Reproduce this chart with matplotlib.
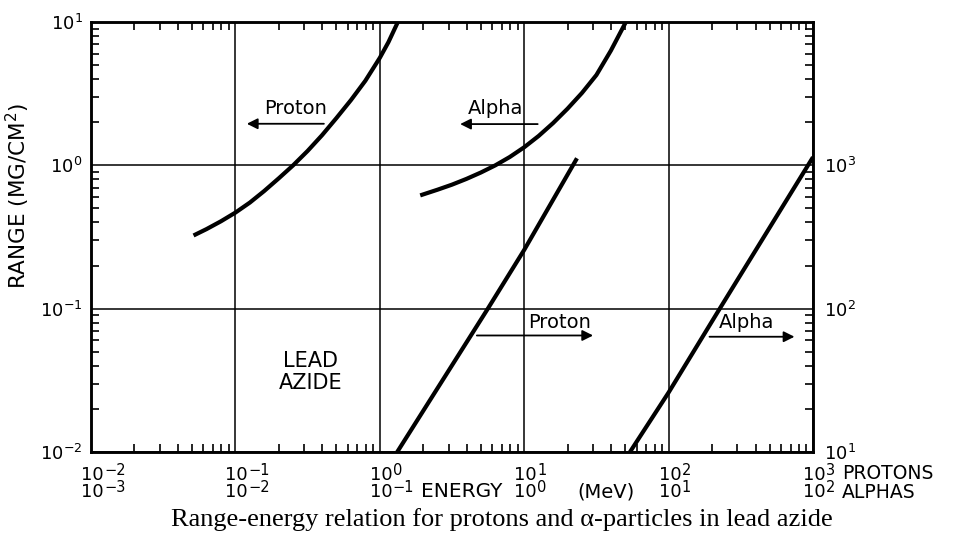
import matplotlib
matplotlib.use("Agg")
import matplotlib.pyplot as plt
import numpy as np
from matplotlib import transforms
from matplotlib.ticker import LogLocator, NullFormatter

plt.rcParams['font.family'] = ['DejaVu Sans']
plt.rcParams['mathtext.default'] = 'regular'

# low-energy curves, left range scale (mg/cm^2)
proton_lo_e = [0.0513, 0.0631, 0.0794, 0.1, 0.126, 0.158, 0.200, 0.251, 0.316, 0.398,
               0.501, 0.631, 0.794, 1.0, 1.148, 1.334]                           # MeV (proton row)
proton_lo_r = [0.324, 0.359, 0.407, 0.468, 0.550, 0.661, 0.813, 1.0, 1.259, 1.622,
               2.138, 2.851, 3.89, 5.62, 7.24, 10.0]
alpha_lo_e = [0.1905, 0.251, 0.316, 0.398, 0.501, 0.631, 0.794, 1.0, 1.259, 1.585,
              1.995, 2.512, 3.162, 3.981, 5.06]                                  # MeV (alpha row)
alpha_lo_r = [0.617, 0.676, 0.733, 0.804, 0.891, 1.0, 1.143, 1.337, 1.603, 1.972,
              2.483, 3.199, 4.266, 6.31, 10.0]

# high-energy curves, right range scale
proton_hi_e = [1.32, 5.6, 10.0, 23.2]
proton_hi_r = [10, 100, 257, 1120]
alpha_hi_e = [5.4, 10.0, 22.6, 100.0]
alpha_hi_r = [10, 26, 100, 1140]

proton_ticks = [1e-2, 1e-1, 1e0, 1e1, 1e2, 1e3]
proton_exps = ['−2', '−1', '0', '1', '2', '3']
alpha_exps = ['−3', '−2', '−1', '0', '1', '2']
left_ticks = [1e-2, 1e-1, 1e0, 1e1]
left_labels = ['$10^{-2}$', '$10^{-1}$', '$10^{0}$', '$10^{1}$']
right_ticks = [1e1, 1e2, 1e3]
right_labels = ['$10^{1}$', '$10^{2}$', '$10^{3}$']

ALPHA_SHIFT = 10  # alpha energy row sits one decade below the proton row

fig = plt.figure(figsize=(9.58, 5.42), dpi=100)
ax = fig.add_axes([91 / 958, 1 - 452 / 542, (813 - 91) / 958, (452 - 22) / 542])
ax.set_xscale('log')
ax.set_yscale('log')
ax.set_xlim(1e-2, 1e3)
ax.set_ylim(1e-2, 1e1)

ax_r = ax.twinx()
ax_r.set_yscale('log')
ax_r.set_ylim(1e1, 1e4)

# curves
ax.plot(proton_lo_e, proton_lo_r, color='k', lw=3, solid_capstyle='butt')
ax.plot(np.array(alpha_lo_e) * ALPHA_SHIFT, alpha_lo_r, color='k', lw=3, solid_capstyle='butt')
ax_r.plot(proton_hi_e, proton_hi_r, color='k', lw=3, solid_capstyle='butt')
ax_r.plot(np.array(alpha_hi_e) * ALPHA_SHIFT, alpha_hi_r, color='k', lw=3, solid_capstyle='butt')

# grid and ticks
ax.grid(which='major', color='k', lw=1.1)
for a in (ax, ax_r):
    for s in a.spines.values():
        s.set_linewidth(1.8)

ax.xaxis.set_minor_locator(LogLocator(base=10, subs=np.arange(2, 10), numticks=30))
ax.yaxis.set_minor_locator(LogLocator(base=10, subs=np.arange(2, 10), numticks=30))
ax_r.yaxis.set_minor_locator(LogLocator(base=10, subs=np.arange(2, 10), numticks=30))
ax.xaxis.set_minor_formatter(NullFormatter())
ax.yaxis.set_minor_formatter(NullFormatter())
ax_r.yaxis.set_minor_formatter(NullFormatter())

ax.set_xticks(proton_ticks)
ax.set_xticklabels([])
ax.set_yticks(left_ticks, left_labels)
ax_r.set_yticks(right_ticks, right_labels)

ax.tick_params(which='major', length=0, labelsize=13, pad=6)
ax.tick_params(which='minor', direction='in', length=6, width=1.2,
               top=True, bottom=True, left=True, right=False)
ax_r.tick_params(which='major', length=0, labelsize=13, pad=8)
ax_r.tick_params(which='minor', direction='in', length=6, width=1.2)

# two rows of energy labels under the axis: "10" plus a raised exponent
base = transforms.blended_transform_factory(ax.transData, fig.transFigure)
t_ten = transforms.offset_copy(base, fig=fig, x=-10, y=0, units='dots')
t_exp = transforms.offset_copy(base, fig=fig, x=13, y=5, units='dots')
for e, p_exp, a_exp in zip(proton_ticks, proton_exps, alpha_exps):
    for row_y, ex in ((1 - 480 / 542, p_exp), (1 - 497 / 542, a_exp)):
        ax.text(e, row_y, '10', transform=t_ten, ha='left', va='baseline', fontsize=13)
        ax.text(e, row_y, ex, transform=t_exp, ha='left', va='baseline', fontsize=10.5)

fig.text(462 / 958, 1 - 497 / 542, 'ENERGY', ha='center', va='baseline', fontsize=14.5)
fig.text(606 / 958, 1 - 497 / 542, '(MeV)', ha='center', va='baseline', fontsize=14)
fig.text(842 / 958, 1 - 479 / 542, 'PROTONS', ha='left', va='baseline', fontsize=13.5)
fig.text(842 / 958, 1 - 498 / 542, 'ALPHAS', ha='left', va='baseline', fontsize=13.5)

fig.text(18 / 958, 1 - 196 / 542, 'RANGE (MG/CM$^2$)', rotation=90,
         ha='center', va='center', fontsize=15.5)

# labels and arrows on the curves
arrow = dict(arrowstyle='-|>', color='k', lw=1.3, mutation_scale=16, shrinkA=0, shrinkB=0)
ax.text(0.26, 2.27, 'Proton', ha='center', va='baseline', fontsize=14)
ax.annotate('', xy=(0.12, 1.95), xytext=(0.41, 1.95), arrowprops=arrow)
ax.text(6.3, 2.27, 'Alpha', ha='center', va='baseline', fontsize=14)
ax.annotate('', xy=(3.6, 1.94), xytext=(12.4, 1.94), arrowprops=arrow)
ax.text(17.6, 0.0736, 'Proton', ha='center', va='baseline', fontsize=14)
ax.annotate('', xy=(30, 0.065), xytext=(4.7, 0.065), arrowprops=arrow)
ax.text(347, 0.0736, 'Alpha', ha='center', va='baseline', fontsize=14)
ax.annotate('', xy=(744, 0.0637), xytext=(192, 0.0637), arrowprops=arrow)
ax.text(0.33, 0.036, 'LEAD\nAZIDE', ha='center', va='center', fontsize=15, linespacing=1.15)

fig.text(502 / 958, 1 - 520 / 542,
         'Range-energy relation for protons and α-particles in lead azide',
         ha='center', va='center', fontsize=19, family='Liberation Serif')

fig.savefig('out.png', dpi=100)
